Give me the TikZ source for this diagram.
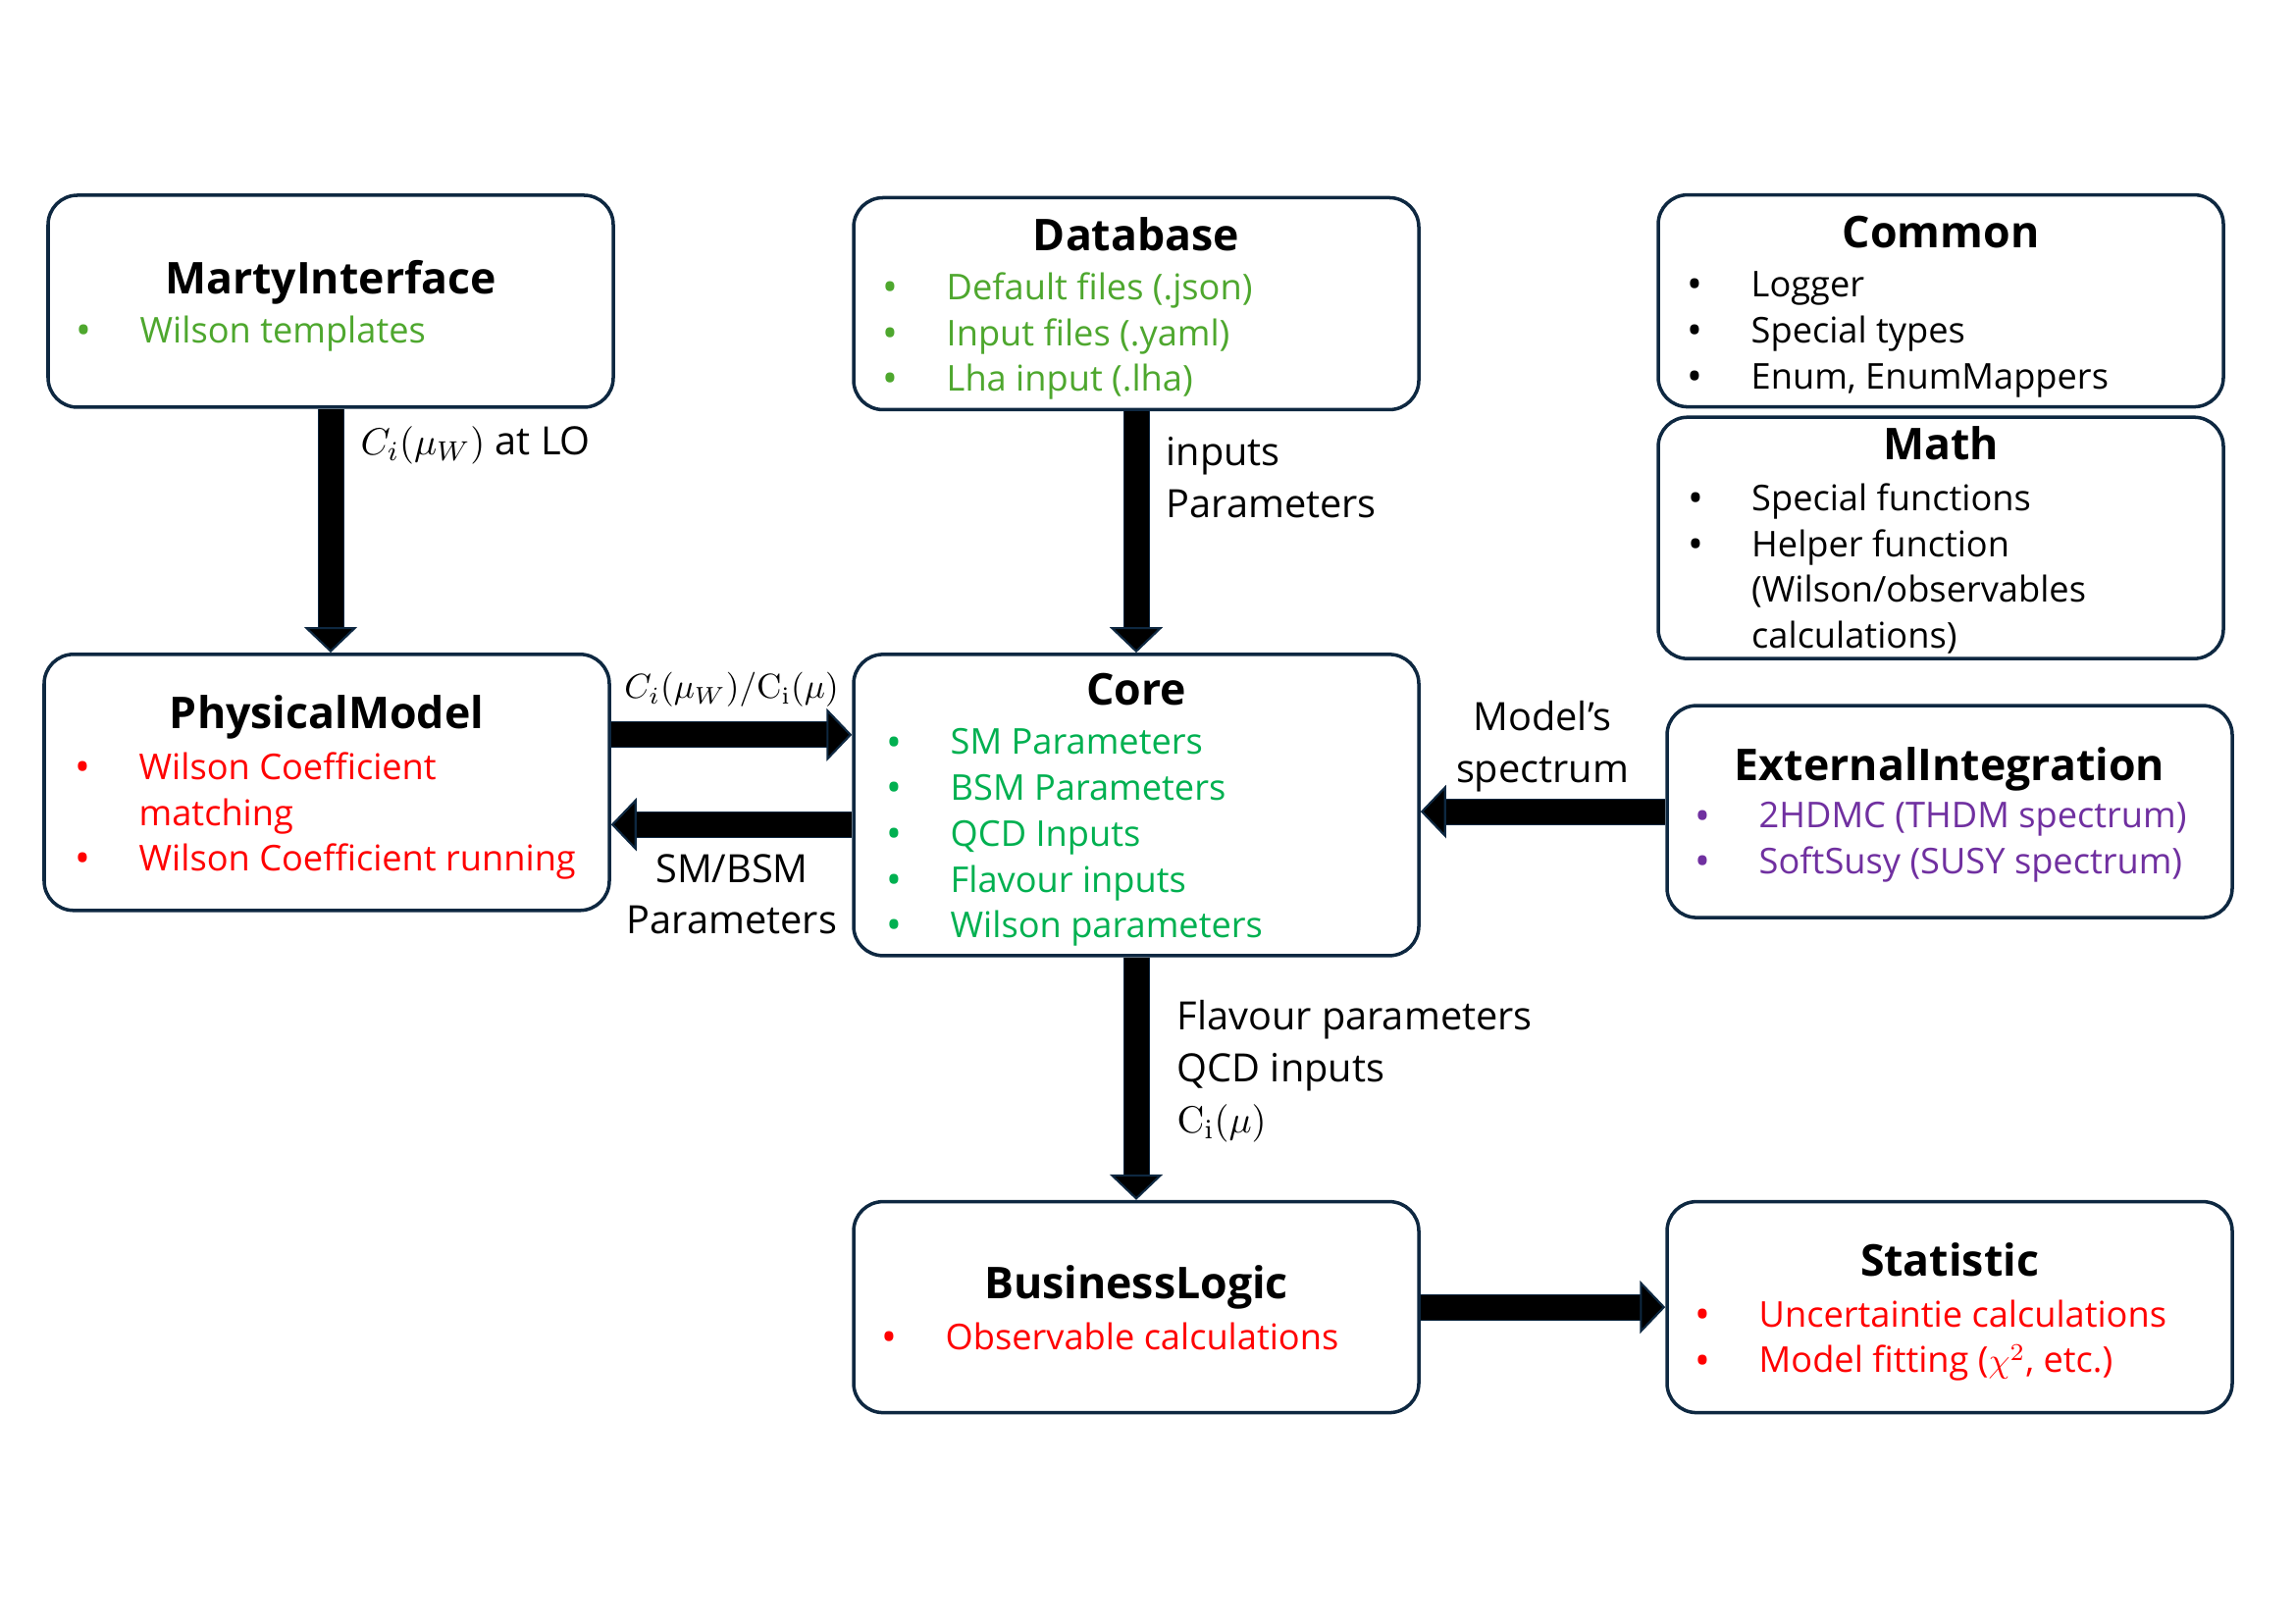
\documentclass[tikz,border=0pt]{standalone}
\usepackage[no-math]{fontspec}
\setmainfont{Open Sans}
\usetikzlibrary{positioning,calc,arrows.meta}
\definecolor{BoxNavy}{HTML}{0E2841}
\definecolor{DbGreen}{HTML}{4EA72E}
\definecolor{CoreGreen}{HTML}{00B050}
\definecolor{CalcRed}{HTML}{FF0000}
\definecolor{ExtPurple}{HTML}{7030A0}
\newcommand{\bul}{\makebox[6.5mm][l]{\raisebox{-0.6pt}{\fontsize{12}{13}\selectfont\textbullet}}}
\newcommand{\cont}{\hspace*{6.5mm}}

\begin{document}
\begin{tikzpicture}[
  modbox/.style={draw=BoxNavy, line width=1pt, rounded corners=3mm, minimum width=5.76cm, inner sep=0pt},
  modtitle/.style={anchor=base, inner sep=0pt, font=\fontsize{12.7}{14}\selectfont\bfseries},
  modlist/.style={anchor=north west, align=left, inner sep=0pt, font=\fontsize{10.3}{13.3}\selectfont},
  flowlabel/.style={inner sep=0pt, font=\fontsize{11.3}{14.85}\selectfont},
  flow/.style={line width=2.5mm, preaction={draw=BoxNavy, line width=2.7mm, arrows=-, shorten >=2.5mm},
    -{Triangle[width=5.4mm, length=2.6mm, line width=0.6pt, color=BoxNavy, fill=black]}}
]
\useasboundingbox (0,0) rectangle (23.39,16.54);

% top row
\node[modbox, minimum height=2.16cm] (marty) at (3.37,13.47) {};
\node[modtitle] (martyTitle) at (3.37,13.545) {MartyInterface};
\node[modlist, text=DbGreen] (martyList) at (0.77,13.33) {\bul Wilson templates};

\node[modbox, minimum height=2.16cm] (db) at (11.58,13.445) {};
\node[modtitle] (dbTitle) at (11.58,13.985) {Database};
\node[modlist, text=DbGreen] (dbList) at (8.99,13.77) {\bul Default files (.json)\\ \bul Input files (.yaml)\\ \bul Lha input (.lha)};

\node[modbox, minimum height=2.16cm] (common) at (19.78,13.474) {};
\node[modtitle] (commonTitle) at (19.78,14.016) {Common};
\node[modlist] (commonList) at (17.19,13.78) {\bul Logger\\ \bul Special types\\ \bul Enum, EnumMappers};

\node[modbox, minimum height=2.46cm] (math) at (19.78,11.058) {};
\node[modtitle] (mathTitle) at (19.78,11.85) {Math};
\node[modlist] (mathList) at (17.195,11.62) {\bul Special functions\\ \bul Helper function\\ \cont(Wilson/observables\\ \cont calculations)};

% middle row
\node[modbox, minimum height=2.61cm] (phys) at (3.33,8.567) {};
\node[modtitle] (physTitle) at (3.33,9.11) {PhysicalModel};
\node[modlist, text=CalcRed] (physList) at (0.76,8.88) {\bul Wilson Coefficient\\ \cont matching\\ \bul Wilson Coefficient running};

\node[modbox, minimum height=3.07cm] (core) at (11.58,8.336) {};
\node[modtitle] (coreTitle) at (11.58,9.35) {Core};
\node[modlist, text=CoreGreen] (coreList) at (9.03,9.12) {\bul SM Parameters\\ \bul BSM Parameters\\ \bul QCD Inputs\\ \bul Flavour inputs\\ \bul Wilson parameters};

\node[modbox, minimum height=2.16cm] (ext) at (19.87,8.269) {};
\node[modtitle] (extTitle) at (19.87,8.582) {ExternalIntegration};
\node[modlist, text=ExtPurple] (extList) at (17.27,8.37) {\bul 2HDMC (THDM spectrum)\\ \bul SoftSusy (SUSY spectrum)};

% bottom row
\node[modbox, minimum height=2.15cm] (biz) at (11.58,3.219) {};
\node[modtitle] (bizTitle) at (11.58,3.305) {BusinessLogic};
\node[modlist, text=CalcRed] (bizList) at (8.98,3.07) {\bul Observable calculations};

\node[modbox, minimum height=2.15cm] (stat) at (19.87,3.219) {};
\node[modtitle] (statTitle) at (19.87,3.535) {Statistic};
\node[modlist, text=CalcRed] (statList) at (17.27,3.30) {\bul Uncertaintie calculations\\ \bul Model fitting ($\chi^2$, etc.)};

% flows
\draw[flow] (marty.south) -- (marty.south |- phys.north);
\draw[flow] (db.south) -- (core.north);
\coordinate (pmOut) at ([yshift=4.85mm]phys.east);
\coordinate (pmIn) at ([yshift=-4.3mm]phys.east);
\draw[flow] (pmOut) -- (pmOut -| core.west);
\draw[flow] (pmIn -| core.west) -- (pmIn);
\draw[flow] (ext.west) -- (ext.west -| core.east);
\draw[flow] (core.south) -- (biz.north);
\draw[flow] (biz.east) -- (stat.west);

% flow labels
\node[flowlabel, anchor=base west] (loLabel) at (3.67,11.90) {$C_i(\mu_W)$ at LO};
\node[flowlabel, anchor=north west, align=left] (dbLabel) at (11.88,12.09) {inputs\\Parameters};
\node[flowlabel, anchor=base, font=\fontsize{10.4}{13}\selectfont] (pmOutLabel) at (7.455,9.42) {$C_i(\mu_W)/\mathrm{C}_\mathrm{i}(\mu)$};
\node[flowlabel, anchor=north, align=center] (pmInLabel) at (7.46,7.84) {SM/BSM\\Parameters};
\node[flowlabel, anchor=north, align=center] (extLabel) at (15.72,9.40) {Model’s\\spectrum};
\node[flowlabel, anchor=north west, align=left] (bizLabel) at (11.99,6.35) {Flavour parameters\\QCD inputs\\$\mathrm{C}_\mathrm{i}(\mu)$};
\end{tikzpicture}
\end{document}
